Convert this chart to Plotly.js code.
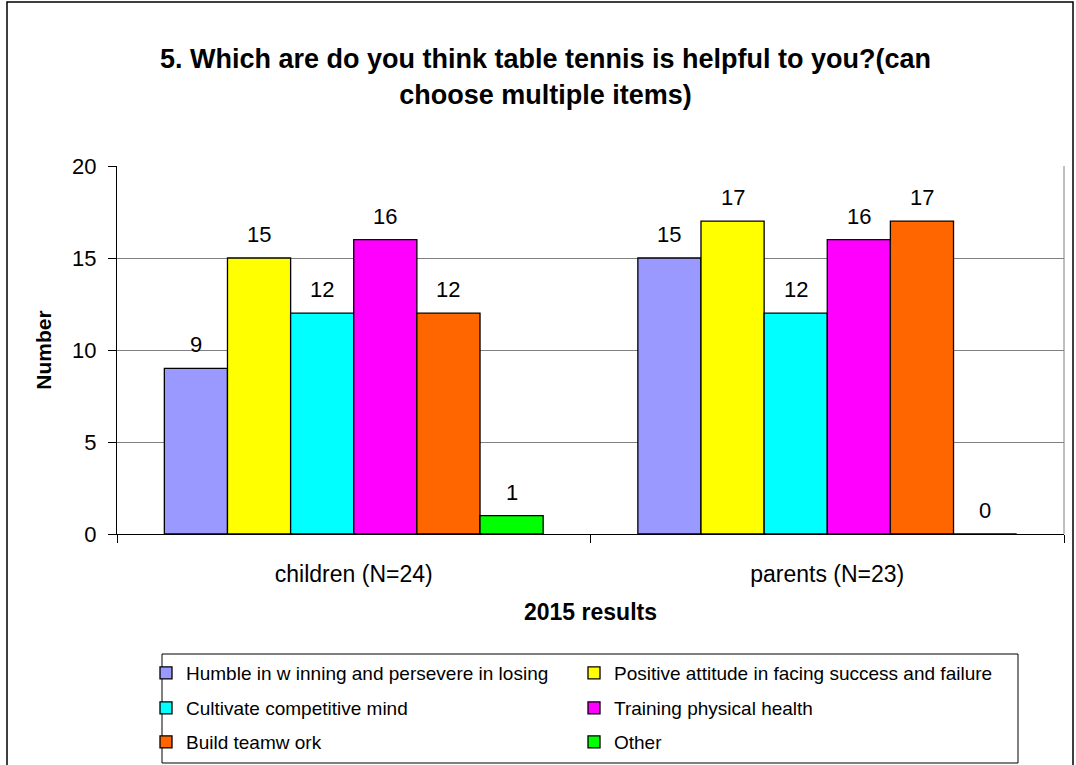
<!DOCTYPE html>
<html>
<head>
<meta charset="utf-8">
<script src="https://cdn.plot.ly/plotly-3.0.1.min.js"></script>
<style>html,body{margin:0;padding:0;background:#fff;}#chart{width:1076px;height:765px;}</style>
</head>
<body>
<div id="chart"></div>
<script>
const categories = ['children (N=24)', 'parents (N=23)'];
const seriesNames = [
  'Humble in w inning and persevere in losing',
  'Positive attitude in facing success and failure',
  'Cultivate competitive mind',
  'Training physical health',
  'Build teamw ork',
  'Other'
];
const humble = [9, 15];
const positive = [15, 17];
const competitive = [12, 12];
const physical = [16, 16];
const teamwork = [12, 17];
const other = [1, 0];
const seriesValues = [humble, positive, competitive, physical, teamwork, other];
const colors = ['#9999FF', '#FFFF00', '#00FFFF', '#FF00FF', '#FF6600', '#00FF00'];
const yTicks = [0, 5, 10, 15, 20];

const FONT = 'Liberation Sans, Arial, sans-serif';
const bargap = 0.2;
const nS = seriesValues.length;
const legendIds = ['legend', 'legend', 'legend2', 'legend2', 'legend3', 'legend3'];

const traces = seriesValues.map((vals, i) => ({
  type: 'bar',
  name: seriesNames[i],
  x: categories,
  y: vals,
  legend: legendIds[i],
  marker: { color: colors[i], line: { color: '#000000', width: 1.3 } },
  hoverinfo: 'x+y+name'
}));

// data labels placed above each bar via the category axis
const annotations = [];
const slot = (1 - bargap) / nS;
seriesValues.forEach((vals, i) => {
  vals.forEach((v, j) => {
    annotations.push({
      x: j - (1 - bargap) / 2 + slot * (i + 0.5),
      y: v,
      xref: 'x', yref: 'y',
      text: String(v),
      showarrow: false,
      yanchor: 'bottom',
      yshift: 9,
      font: { family: FONT, size: 22, color: '#000' }
    });
  });
});

function legendRow(yPx) {
  return {
    orientation: 'h',
    xref: 'container', yref: 'container',
    x: 146 / 1076, xanchor: 'left',
    y: 1 - yPx / 765, yanchor: 'middle',
    bgcolor: 'rgba(0,0,0,0)',
    borderwidth: 0,
    font: { family: FONT, size: 19, color: '#000' },
    entrywidth: 383,
    traceorder: 'normal'
  };
}

const layout = {
  width: 1076,
  height: 765,
  margin: { l: 117, r: 12, t: 166, b: 231 },
  paper_bgcolor: '#ffffff',
  plot_bgcolor: '#ffffff',
  barmode: 'group',
  bargap: bargap,
  bargroupgap: 0,
  title: {
    text: '<b>5. Which are do you think table tennis is helpful to you?(can<br>choose multiple items)</b>',
    font: { family: FONT, size: 27, color: '#000' },
    x: 0.507, xanchor: 'center',
    y: 0.9105, yanchor: 'middle'
  },
  xaxis: {
    type: 'category',
    showline: true, linecolor: '#000', linewidth: 1,
    ticks: 'outside', tickson: 'boundaries', ticklen: 8, tickcolor: '#000',
    tickfont: { family: FONT, size: 23, color: '#000' },
    ticklabelstandoff: 19,
    showgrid: false, zeroline: false,
    title: { text: '<b>2015 results</b>', font: { family: FONT, size: 23, color: '#000' }, standoff: 18 },
    automargin: false
  },
  yaxis: {
    range: [0, 20],
    tickvals: yTicks,
    showline: true, linecolor: '#000', linewidth: 1,
    ticks: 'outside', ticklen: 8, tickcolor: '#000',
    tickfont: { family: FONT, size: 22, color: '#000' },
    ticklabelstandoff: 7,
    showgrid: true, gridcolor: '#808080', gridwidth: 1,
    zeroline: false,
    title: { text: '<b>Number</b>', font: { family: FONT, size: 21, color: '#000' }, standoff: 14 },
    automargin: false
  },
  legend: legendRow(673),
  legend2: legendRow(708),
  legend3: legendRow(742),
  annotations: annotations,
  shapes: [
    { type: 'line', xref: 'paper', yref: 'paper', x0: 1, x1: 1, y0: 0, y1: 1, line: { color: '#808080', width: 1 } },
    { type: 'rect', xref: 'paper', yref: 'paper', x0: (7 - 117) / 947, x1: (1073 - 117) / 947, y0: (534 - 775) / 368, y1: (534 - 2) / 368, line: { color: '#000', width: 1.5 }, layer: 'below' },
    { type: 'rect', xref: 'paper', yref: 'paper', x0: 45 / 947, x1: 901 / 947, y0: (534 - 763) / 368, y1: (534 - 654) / 368, line: { color: '#000', width: 1 }, layer: 'below' }
  ],
  showlegend: true
};

Plotly.newPlot('chart', traces, layout, { displayModeBar: false, staticPlot: true });
</script>
</body>
</html>
